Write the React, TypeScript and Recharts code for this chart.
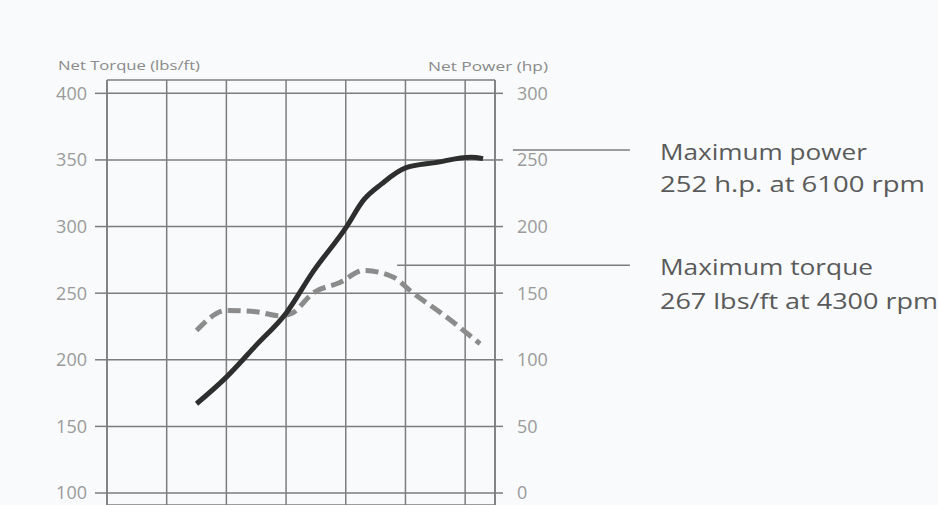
import React from 'react';
import {
    LineChart,
    Line,
    XAxis,
    YAxis,
    CartesianGrid,
    ReferenceLine
} from 'recharts';

// engine speed grid (rpm)
const rpmTicks = [0, 1000, 2000, 3000, 4000, 5000, 6000];
const torqueTicks = [100, 150, 200, 250, 300, 350, 400];
const powerTicks = [0, 50, 100, 150, 200, 250, 300];

// net power curve (hp)
const powerRpm = [1500, 2000, 2500, 3000, 3450, 4000, 4300, 4600, 5000, 5500, 6100, 6300];
const powerHp = [67, 87, 111, 135, 166, 199, 220, 232, 244, 248, 252, 251];

// net torque curve (lbs/ft)
const torqueRpm = [1500, 2000, 2500, 2900, 3100, 3450, 3900, 4300, 4800, 5100, 5600, 6250];
const torqueLbft = [222, 237, 236, 233, 235, 250, 258, 267, 262, 251, 235, 212];

const powerData = powerRpm.map((rpm, i) => ({ rpm, hp: powerHp[i] }));
const torqueData = torqueRpm.map((rpm, i) => ({ rpm, lbft: torqueLbft[i] }));

const GRID = '#7d7d7d';
const TICK = { fill: '#9a9a9a', fontSize: 18, fontFamily: '"Open Sans", sans-serif' };

const App: React.FC = () => {
    return (
        <div
            style={{
                position: 'absolute',
                left: 0,
                top: 0,
                width: 938,
                height: 505,
                background: '#f8fafb',
                overflow: 'hidden',
                fontFamily: '"Open Sans", sans-serif'
            }}
        >
            <LineChart width={938} height={505} margin={{ top: 80, right: 383, bottom: 0, left: 0 }}>
                <CartesianGrid yAxisId="left" stroke={GRID} strokeWidth={1.5} />
                <XAxis
                    dataKey="rpm"
                    type="number"
                    domain={[0, 6500]}
                    ticks={rpmTicks}
                    allowDuplicatedCategory={false}
                    hide
                />
                <YAxis
                    yAxisId="left"
                    orientation="left"
                    width={107}
                    domain={[91, 410]}
                    ticks={torqueTicks}
                    tickSize={12}
                    tickMargin={8}
                    tick={TICK}
                    axisLine={{ stroke: GRID, strokeWidth: 1.5 }}
                    tickLine={{ stroke: GRID, strokeWidth: 1.5 }}
                />
                <YAxis
                    yAxisId="right"
                    orientation="right"
                    width={60}
                    domain={[-9, 310]}
                    ticks={powerTicks}
                    tickSize={8}
                    tickMargin={14}
                    tick={TICK}
                    axisLine={{ stroke: GRID, strokeWidth: 1.5 }}
                    tickLine={{ stroke: GRID, strokeWidth: 1.5 }}
                />
                <ReferenceLine
                    yAxisId="right"
                    segment={[{ x: 6800, y: 257.4 }, { x: 8760, y: 257.4 }]}
                    ifOverflow="visible"
                    stroke={GRID}
                    strokeWidth={1.5}
                />
                <ReferenceLine
                    yAxisId="left"
                    segment={[{ x: 4860, y: 271 }, { x: 8760, y: 271 }]}
                    ifOverflow="visible"
                    stroke={GRID}
                    strokeWidth={1.5}
                />
                <Line
                    yAxisId="left"
                    data={torqueData}
                    dataKey="lbft"
                    type="monotone"
                    stroke="#8c8c8c"
                    strokeWidth={5}
                    strokeDasharray="13 6"
                    dot={false}
                    isAnimationActive={false}
                />
                <Line
                    yAxisId="right"
                    data={powerData}
                    dataKey="hp"
                    type="monotone"
                    stroke="#2e2e2e"
                    strokeWidth={5}
                    dot={false}
                    isAnimationActive={false}
                />
            </LineChart>
            <svg
                width={938}
                height={505}
                style={{ position: 'absolute', left: 0, top: 0, pointerEvents: 'none' }}
            >
                <g fill="#8a8a8a" fontSize={13} fontFamily='"Open Sans", sans-serif'>
                    <text x={58} y={70} textLength={142} lengthAdjust="spacingAndGlyphs">Net Torque (lbs/ft)</text>
                    <text x={428} y={71} textLength={120} lengthAdjust="spacingAndGlyphs">Net Power (hp)</text>
                </g>
                <g fill="#5a5a5a" fontSize={22} fontFamily='"Open Sans", sans-serif'>
                    <text x={660} y={160} textLength={207} lengthAdjust="spacingAndGlyphs">Maximum power</text>
                    <text x={660} y={192} textLength={265} lengthAdjust="spacingAndGlyphs">252 h.p. at 6100 rpm</text>
                    <text x={660} y={275} textLength={213} lengthAdjust="spacingAndGlyphs">Maximum torque</text>
                    <text x={660} y={309} textLength={278} lengthAdjust="spacingAndGlyphs">267 lbs/ft at 4300 rpm</text>
                </g>
            </svg>
        </div>
    );
};

export default App;
